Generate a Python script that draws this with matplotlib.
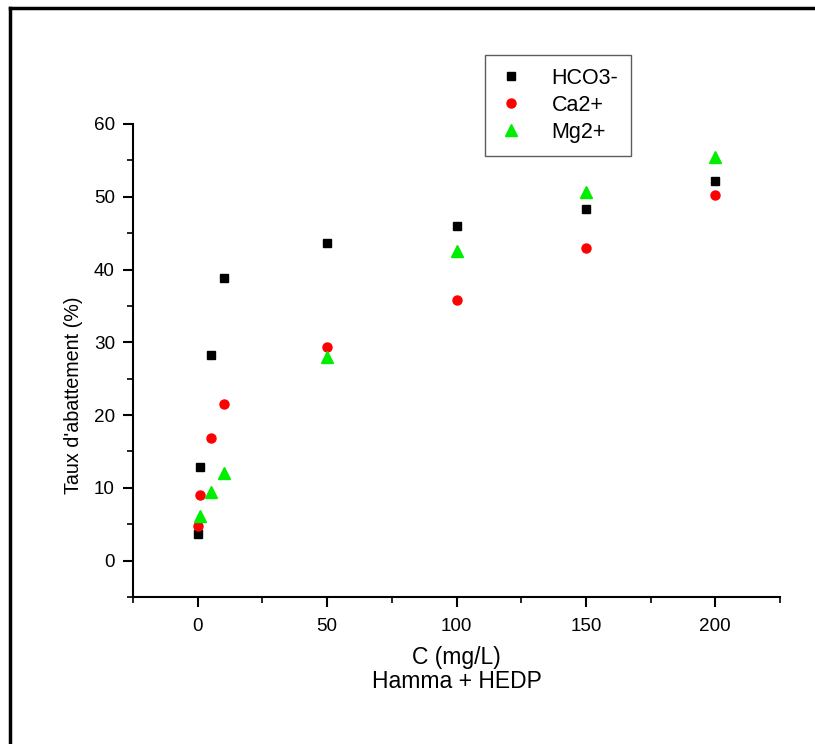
import matplotlib
matplotlib.use("Agg")
import matplotlib.pyplot as plt
from matplotlib.lines import Line2D
from matplotlib.ticker import MultipleLocator

plt.rcParams['font.family'] = ['Liberation Sans', 'DejaVu Sans']

# Data
x_hco3 = [0, 1, 5, 10, 50, 100, 150, 200]
y_hco3 = [3.7, 12.9, 28.2, 38.8, 43.6, 46.0, 48.3, 52.2]
x_ca = [0, 1, 5, 10, 50, 100, 150, 200]
y_ca = [4.8, 9.0, 16.8, 21.5, 29.3, 35.8, 43.0, 50.2]
x_mg = [1, 5, 10, 50, 100, 150, 200]
y_mg = [6.1, 9.4, 12.0, 28.0, 42.5, 50.6, 55.5]
labels = ["HCO3-", "Ca2+", "Mg2+"]
x_title = "C (mg/L)\nHamma + HEDP"
y_title = "Taux d'abattement (%)"

W, H = 815, 744
fig = plt.figure(figsize=(W/100, H/100), dpi=100)
ax = fig.add_axes([133/W, 1-597/H, (780-133)/W, (597-124)/H])

ax.plot(x_hco3, y_hco3, 's', color='black', ms=6, label=labels[0], linestyle='none')
ax.plot(x_ca, y_ca, 'o', color='red', ms=6.5, label=labels[1], linestyle='none')
ax.plot(x_mg, y_mg, '^', color='#00ee00', ms=9, label=labels[2], linestyle='none')

ax.set_xlim(-25, 225)
ax.set_ylim(-5, 60)
ax.xaxis.set_major_locator(MultipleLocator(50))
ax.xaxis.set_minor_locator(MultipleLocator(25))
ax.yaxis.set_major_locator(MultipleLocator(10))
ax.yaxis.set_minor_locator(MultipleLocator(5))
for s in ['top', 'right']:
    ax.spines[s].set_visible(False)
for s in ['left', 'bottom']:
    ax.spines[s].set_linewidth(1.5)
ax.tick_params(which='major', direction='out', length=7, width=1.5, labelsize=13.6, pad=6)
ax.tick_params(axis='x', which='major', pad=8)
ax.tick_params(which='minor', direction='out', length=4, width=1.2)
ax.set_xlabel(x_title, fontsize=16.5, labelpad=8, linespacing=1.05)
ax.set_ylabel(y_title, fontsize=14.2)
ax.yaxis.set_label_coords(-0.077, 0.427)

leg = fig.legend(loc='upper left', bbox_to_anchor=(485/W, 1-55/H), borderaxespad=0,
                 fancybox=False, edgecolor='#333333', fontsize=15.5, frameon=True,
                 handlelength=1.2, handletextpad=1.3, borderpad=0.6, labelspacing=0.28)
leg.get_frame().set_linewidth(1.0)

# outer border
fig.add_artist(Line2D([10/W, 10/W], [0, 1-8/H], transform=fig.transFigure, color='black', lw=2.5))
fig.add_artist(Line2D([10/W, 1], [1-8/H, 1-8/H], transform=fig.transFigure, color='black', lw=2.5))

fig.savefig("out.png", dpi=100)
